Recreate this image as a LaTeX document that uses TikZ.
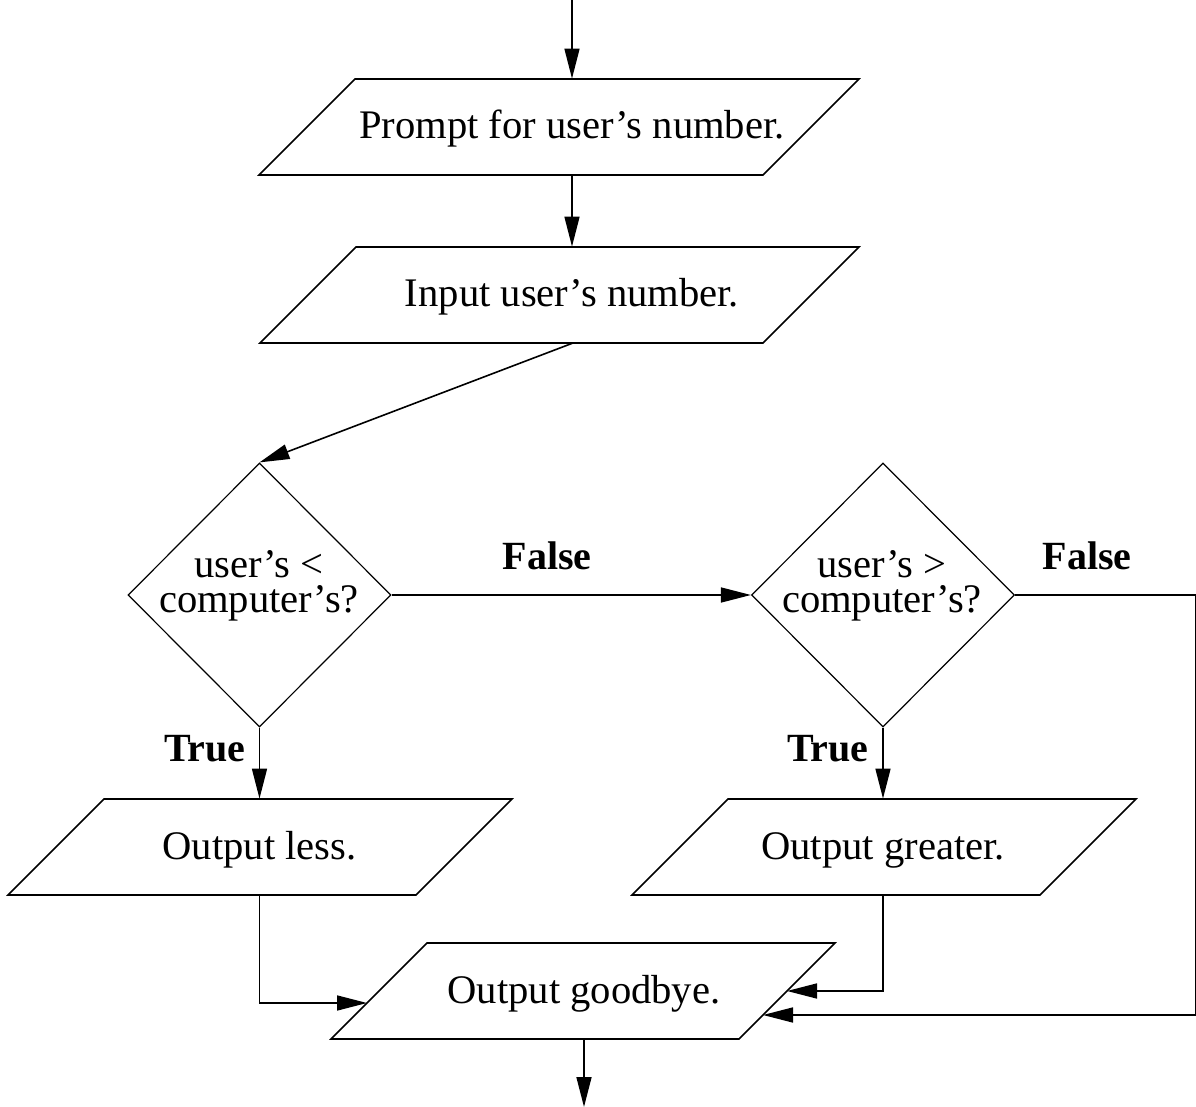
\documentclass[tikz,border=0pt]{standalone}
\usepackage{fontspec}
\setmainfont{Liberation Serif}
\usetikzlibrary{arrows.meta,calc,shapes.geometric}

% parallelogram round an io node: #1 node, #2/#3 offsets of the bottom corners
\newcommand\iobox[3]{%
  \draw[boxline] ($(#1)+(#2,48)$) -- ($(#1)+(#3,48)$) --
    ($(#1)+(#3+96,-48)$) -- ($(#1)+(#2+96,-48)$) -- cycle;}

\begin{document}
\begin{tikzpicture}[x=0.5pt,y=-0.5pt,
  boxline/.style={line width=0.8pt, line join=miter},
  flow/.style={-{Triangle[length=15pt,width=7.5pt]}, line width=0.8pt},
  io/.style={rectangle, inner sep=0pt, minimum height=48pt,
    text height=14pt, text depth=2pt, font=\fontsize{20.3}{24}\selectfont},
  decision/.style={diamond, draw, line width=0.6pt, inner sep=0pt,
    minimum width=131.5pt, minimum height=132pt},
  dtext/.style={anchor=base, inner sep=0pt, align=center,
    font=\fontsize{20.3}{17.5}\selectfont},
  branch/.style={anchor=base, inner sep=0pt, font=\fontsize{20}{24}\selectfont\bfseries},
]
\path[use as bounding box] (0,0) rectangle (1196,1107);

% process boxes
\node[io] (prompt)  at (572,127)   {Prompt for user's number.};
\node[io] (input)   at (572,295)   {Input user's number.};
\node[io] (less)    at (259.5,847) {Output less.};
\node[io] (greater) at (883,847)   {Output greater.};
\node[io] (bye)     at (584,991)   {Output goodbye.};
\iobox{prompt}{-313}{191}
\iobox{input}{-312}{191}
\iobox{less}{-251.5}{156.5}
\iobox{greater}{-251}{157}
\iobox{bye}{-253}{155}

% decisions (base anchor sits on the second line)
\node[decision] (lt) at (259.5,595) {};
\node[dtext] (ltq) at (259,613) {user's <\\computer's?};
\node[decision] (gt) at (883,595) {};
\node[dtext] (gtq) at (882,613) {user's >\\computer's?};

% branch labels
\node[branch] (f1) at (547,570)  {False};
\node[branch] (f2) at (1087,570) {False};
\node[branch] (t1) at (205,762)  {True};
\node[branch] (t2) at (828,762)  {True};

% free ends and entry points on the goodbye box
\coordinate (start) at (572,0);
\coordinate (stop)  at (584,1107);
\coordinate (byeL)  at ($(bye)+(-217,12)$);
\coordinate (byeR1) at ($(bye)+(203,0)$);
\coordinate (byeR2) at ($(bye)+(179,24)$);

% connectors
\draw[flow] (start) -- (prompt.north);
\draw[flow] (prompt.south) -- (input.north);
\draw[flow] (input.south) -- (lt.north);
\draw[flow] (lt.east) -- (gt.west);
\draw[flow] (lt.south) -- (less.north);
\draw[flow] (gt.south) -- (greater.north);
\draw[flow] (less.south) |- (byeL);
\draw[flow] (greater.south) |- (byeR1);
\draw[flow] (gt.east) -- ++(180.5,0) |- (byeR2);
\draw[flow] (bye.south) -- (stop);
\end{tikzpicture}
\end{document}
